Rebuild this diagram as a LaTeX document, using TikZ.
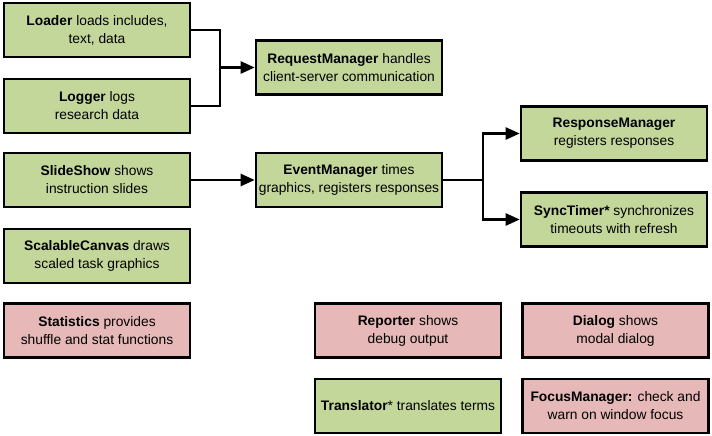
\documentclass[tikz,border=0pt]{standalone}
\usepackage{fontspec}
\setmainfont{Liberation Sans}
\usetikzlibrary{arrows.meta}
\definecolor{boxgreen}{HTML}{C4D79B}
\definecolor{boxred}{HTML}{E6B9B8}
\begin{document}
\begin{tikzpicture}[x=1pt,y=-1pt,
  box/.style={draw=black,line width=2.6pt,minimum width=186pt,minimum height=54pt,inner sep=0pt,align=center,font=\fontsize{13.8}{18}\selectfont},
  gbox/.style={box,fill=boxgreen},
  rbox/.style={box,fill=boxred},
  conn/.style={line width=2.4pt},
  arr/.style={conn,-{Triangle[length=14pt,width=12pt]}}]
\useasboundingbox (0,0) rectangle (712,436);
\node[gbox] (loader) at (97,30) {\textbf{Loader} loads includes,\\text, data};
\node[gbox] (logger) at (97,106) {\textbf{Logger} logs\\research data};
\node[gbox] (slide) at (97,180) {\textbf{SlideShow} shows\\instruction slides};
\node[gbox] (canvas) at (97,256) {\textbf{ScalableCanvas} draws\\scaled task graphics};
\node[rbox] (stats) at (97,330.5) {\textbf{Statistics} provides\\shuffle and stat functions};
\node[gbox] (req) at (349,67.5) {\textbf{RequestManager} handles\\client-server communication};
\node[gbox] (event) at (349,180) {\textbf{EventManager} times\\graphics, registers responses};
\node[gbox] (resp) at (614,133.5) {\textbf{ResponseManager}\\registers responses};
\node[gbox] (sync) at (614,219.5) {\textbf{SyncTimer*} synchronizes\\timeouts with refresh};
\node[rbox] (reporter) at (408,330.5) {\textbf{Reporter} shows\\debug output};
\node[rbox] (dialog) at (615.5,330.5) {\textbf{Dialog} shows\\modal dialog};
\node[gbox] (trans) at (408,406) {\textbf{Translator}* translates terms};
\node[rbox] (focus) at (615.5,406) {\textbf{FocusManager:} check and\\warn on window focus};
\coordinate (j1) at (220,67.5);
\coordinate (j2) at (483,180);
\draw[conn] (loader.east) -| (j1);
\draw[conn] (logger.east) -| (j1);
\draw[arr] (j1) -- (req.west);
\draw[arr] (slide.east) -- (event.west);
\draw[conn] (event.east) -- (j2);
\draw[arr] (j2) |- (resp.west);
\draw[arr] (j2) |- (sync.west);
\end{tikzpicture}
\end{document}
